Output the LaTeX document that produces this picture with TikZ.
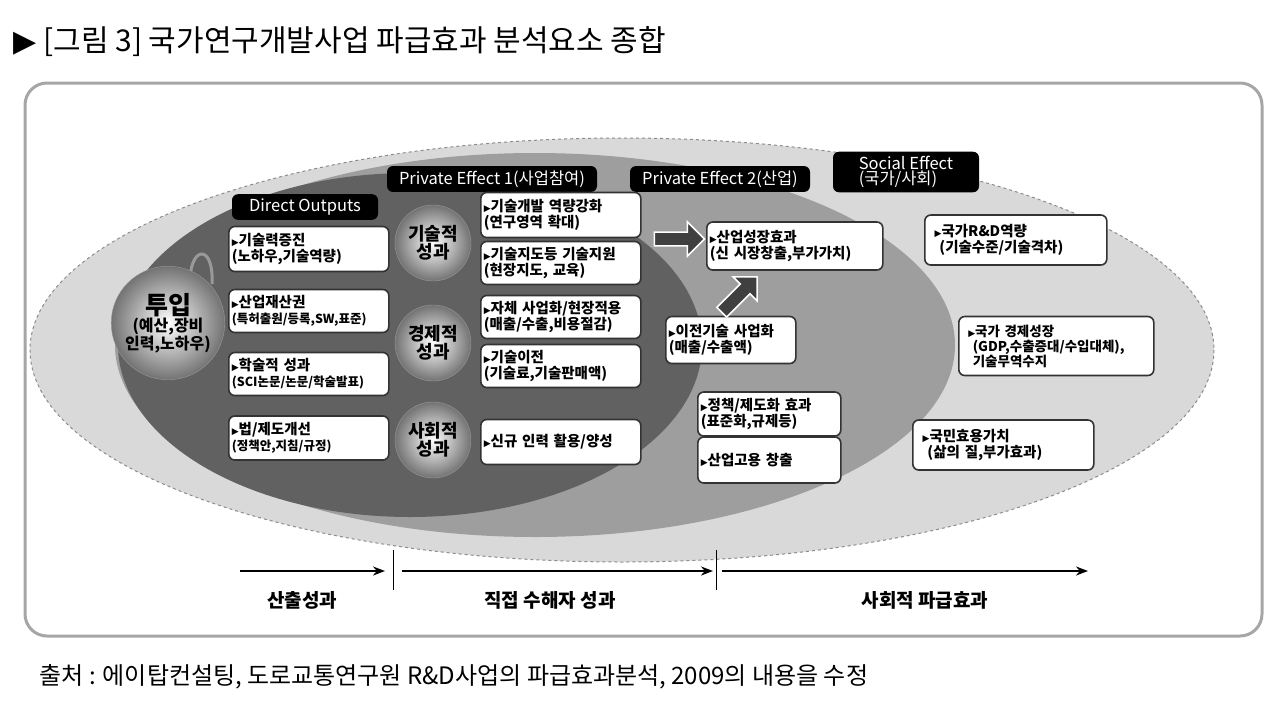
\documentclass[tikz,border=0pt]{standalone}
\usepackage{fontspec}
\setmainfont{Noto Sans CJK KR}
\newfontfamily\sym{DejaVu Sans}
\usetikzlibrary{arrows.meta,shapes.arrows}
\tikzset{
 bx/.style={draw=black!80,line width=1.6pt,fill=white,rounded corners=6pt,align=left,inner sep=3pt,font=\bfseries\fontsize{14.5}{16}\selectfont,anchor=west},
 lbl/.style={fill=black,text=white,rounded corners=6pt,font=\fontsize{16.5}{16.5}\selectfont,inner sep=4.5pt},
 ball/.style={circle,inner color=white,outer color=black!55,draw=black!40,align=center,font=\bfseries\fontsize{18}{18}\selectfont},
 barr/.style={-{Stealth[length=12pt,width=9pt]},line width=2.2pt},
}
\newcommand{\tri}{{\sym\fontsize{9}{9}\selectfont▶}}
\begin{document}
\begin{tikzpicture}[x=1pt,y=-1pt]
\useasboundingbox (0,0) rectangle (1280,710);
\node[anchor=west,font=\fontsize{30}{30}\selectfont] (title) at (10,42) {{\sym▶} [그림 3] 국가연구개발사업 파급효과 분석요소 종합};
\draw[black!35,line width=3pt,fill=white,rounded corners=22pt] (25,83) rectangle (1262,636);
% ellipses
\fill[black!15] (622,350) ellipse [x radius=592,y radius=212];
\draw[black!45,dashed,line width=1pt] (622,350) ellipse [x radius=592,y radius=212];
\fill[black!38] (535,345) ellipse [x radius=420,y radius=192];
\fill[black!62] (410,345) ellipse [x radius=292,y radius=172];
% labels
\node[lbl,minimum width=146pt] (do) at (305,207) {Direct Outputs};
\node[lbl,minimum width=210pt] (pe1) at (492,179) {Private Effect 1(사업참여)};
\node[lbl,minimum width=180pt] (pe2) at (720,179) {Private Effect 2(산업)};
\node[lbl,align=left,minimum width=146pt,font=\fontsize{16.5}{15}\selectfont] (se) at (906,172) {Social Effect\\(국가/사회)};
% input ball
\draw[black!40,line width=3pt] (190,278) .. controls (192,245) and (214,245) .. (212,284);
\node[ball,minimum size=106pt,font=\bfseries\fontsize{16}{17}\selectfont] (in) at (168,323) {{\fontsize{25}{25}\selectfont 투입}\\(예산,장비\\인력,노하우)};
% direct outputs
\node[bx,minimum width=160pt,minimum height=45pt,text width=154pt] (d1) at (228,249) {\tri{}기술력증진\\ (노하우,기술역량)};
\node[bx,minimum width=160pt,minimum height=43pt,text width=154pt] (d2) at (228,311) {\tri{}산업재산권\\{\fontsize{12.5}{13}\selectfont(특허출원/등록,SW,표준)}};
\node[bx,minimum width=160pt,minimum height=43pt,text width=154pt] (d3) at (228,374) {\tri{}학술적 성과\\{\fontsize{12.5}{13}\selectfont(SCI논문/논문/학술발표)}};
\node[bx,minimum width=160pt,minimum height=44pt,text width=154pt] (d4) at (228,438) {\tri{}법/제도개선\\{\fontsize{12.5}{13}\selectfont(정책안,지침/규정)}};
% circles
\node[ball,minimum size=76pt] (c1) at (433,243) {기술적\\성과};
\node[ball,minimum size=76pt] (c2) at (433,343) {경제적\\성과};
\node[ball,minimum size=76pt] (c3) at (433,440) {사회적\\성과};
% PE1 boxes
\node[bx,minimum width=160pt,minimum height=45pt,text width=154pt] (p1) at (480,215) {\tri{}기술개발 역량강화\\ (연구영역 확대)};
\node[bx,minimum width=160pt,minimum height=43pt,text width=154pt] (p2) at (480,263) {\tri{}기술지도등 기술지원\\ (현장지도, 교육)};
\node[bx,minimum width=160pt,minimum height=43pt,text width=154pt] (p3) at (480,317) {\tri{}자체 사업화/현장적용\\ (매출/수출,비용절감)};
\node[bx,minimum width=160pt,minimum height=43pt,text width=154pt] (p4) at (480,366) {\tri{}기술이전\\ (기술료,기술판매액)};
\node[bx,minimum width=160pt,minimum height=45pt,text width=154pt] (p5) at (480,442) {\tri{}신규 인력 활용/양성};
% PE2 boxes
\node[bx,minimum width=176pt,minimum height=48pt,text width=170pt] (q1) at (706,246) {\tri{}산업성장효과\\ (신 시장창출,부가가치)};
\node[bx,minimum width=130pt,minimum height=47pt,text width=124pt] (q2) at (665,340) {\tri{}이전기술 사업화\\ (매출/수출액)};
\node[bx,minimum width=143pt,minimum height=44pt,text width=137pt] (q3) at (697,414) {\tri{}정책/제도화 효과\\ (표준화,규제등)};
\node[bx,minimum width=143pt,minimum height=46pt,text width=137pt] (q4) at (697,460) {\tri{}산업고용 창출};
% social boxes
\node[bx,minimum width=182pt,minimum height=50pt,text width=172pt] (s1) at (924,240) {\ \tri{}국가R\&D역량\\ \ \ (기술수준/기술격차)};
\node[bx,minimum width=195pt,minimum height=59pt,text width=185pt,font=\bfseries\fontsize{13.5}{15}\selectfont] (s2) at (958,346) {\ \tri{}국가 경제성장\\ \ \ (GDP,수출증대/수입대체),\\ \ \ 기술무역수지};
\node[bx,minimum width=181pt,minimum height=50pt,text width=171pt] (s3) at (912,445) {\ \tri{}국민효용가치\\ \ \ (삶의 질,부가효과)};
% block arrows
\node[single arrow,draw=white,line width=1.5pt,fill=black!75,minimum height=50pt,minimum width=34pt,single arrow head extend=4pt,inner sep=2pt] (a1) at (676,239) {};
\node[single arrow,draw=white,line width=1.5pt,fill=black!75,minimum height=50pt,minimum width=34pt,single arrow head extend=4pt,inner sep=2pt,rotate=45] (a2) at (737,297) {};
% bottom timeline
\coordinate (t0) at (240,571); \coordinate (t1) at (385,571);
\coordinate (t2) at (402,571); \coordinate (t3) at (713,571);
\coordinate (t4) at (722,571); \coordinate (t5) at (1088,571);
\draw[barr] (t0) -- (t1);
\draw[barr] (t2) -- (t3);
\draw[barr] (t4) -- (t5);
\coordinate (v1a) at (393,550); \coordinate (v1b) at (393,590);
\coordinate (v2a) at (716,550); \coordinate (v2b) at (716,590);
\draw[line width=1pt] (v1a) -- (v1b);
\draw[line width=1pt] (v2a) -- (v2b);
\node[font=\bfseries\fontsize{19}{19}\selectfont] (b1) at (302,600) {산출성과};
\node[font=\bfseries\fontsize{19}{19}\selectfont] (b2) at (550,600) {직접 수해자 성과};
\node[font=\bfseries\fontsize{19}{19}\selectfont] (b3) at (925,600) {사회적 파급효과};
\node[anchor=west,font=\fontsize{24}{24}\selectfont] (src) at (36,677) {출처 : 에이탑컨설팅, 도로교통연구원 R\&D사업의 파급효과분석, 2009의 내용을 수정};
\end{tikzpicture}
\end{document}
